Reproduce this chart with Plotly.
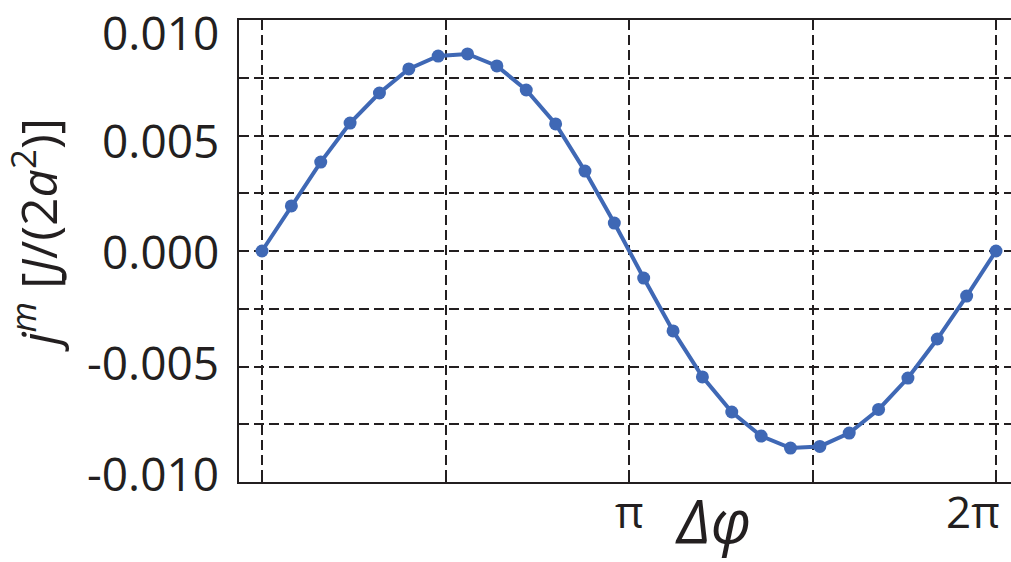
import plotly.graph_objects as go

# Data
dphi = [0.0, 0.2513, 0.5027, 0.7540, 1.0053, 1.2566, 1.5080, 1.7593, 2.0106, 2.2619,
        2.5133, 2.7646, 3.0159, 3.2673, 3.5186, 3.7699, 4.0212, 4.2726, 4.5239, 4.7752,
        5.0265, 5.2779, 5.5292, 5.7805, 6.0319, 6.2832]
jm = [0.0, 0.00195, 0.00385, 0.00554, 0.00684, 0.00788, 0.00844, 0.00853, 0.00801, 0.00697,
      0.00550, 0.00346, 0.00121, -0.00117, -0.00346, -0.00545, -0.00697, -0.00801, -0.00853, -0.00846,
      -0.00788, -0.00686, -0.00550, -0.00381, -0.00195, 0.0]

x_tickvals = [0.0, 1.5708, 3.1416, 4.7124, 6.2832]
x_labels = [(3.1416, "π"), (6.2832, "2π")]
y_tickvals = [-0.010, -0.0075, -0.005, -0.0025, 0.0, 0.0025, 0.005, 0.0075, 0.010]
y_labels = [(0.010, "0.010"), (0.005, "0.005"), (0.0, "0.000"), (-0.005, "-0.005"), (-0.010, "-0.010")]
# downward nudges (px) of the y labels as they sit in the reference
y_label_down = [12, 4, 0, -5, -9]

FONT = "Open Sans"
INK = "#231F20"
BLUE = "#3F68B5"

plot_l, plot_r, plot_t, plot_b = 239, 1011, 20, 482


def px_to_paper(px, py):
    return ((px - plot_l) / (plot_r - plot_l), (plot_b - py) / (plot_b - plot_t))


fig = go.Figure()
fig.add_trace(go.Scatter(
    x=dphi, y=jm, mode="lines+markers",
    line=dict(color=BLUE, width=4),
    marker=dict(color=BLUE, size=13),
    showlegend=False, cliponaxis=False,
))

fig.update_layout(
    width=1011, height=562,
    margin=dict(l=plot_l, r=1011 - plot_r, t=plot_t, b=562 - plot_b),
    paper_bgcolor="white", plot_bgcolor="white",
    font=dict(family=FONT, color=INK, size=46),
    xaxis=dict(
        range=[-0.1969, 6.4115],
        tickvals=x_tickvals, showticklabels=False,
        showgrid=True, gridcolor=INK, gridwidth=1.8, griddash="10px,5px",
        showline=True, linecolor=INK, linewidth=2, mirror="allticks",
        ticks="inside", ticklen=10, tickwidth=1.8, tickcolor=INK,
        zeroline=False, automargin=False,
    ),
    yaxis=dict(
        range=[-0.0100001, 0.0100001],
        tickvals=y_tickvals, showticklabels=False,
        showgrid=True, gridcolor=INK, gridwidth=1.8, griddash="10px,5px",
        showline=True, linecolor=INK, linewidth=2, mirror=False,
        ticks="inside", ticklen=10, tickwidth=1.8, tickcolor=INK,
        zeroline=False, automargin=False,
    ),
)

# y tick labels
lx, _ = px_to_paper(221, 0)
for (val, txt), dy in zip(y_labels, y_label_down):
    fig.add_annotation(x=lx, y=val, xref="paper", yref="y", xanchor="right", yanchor="middle",
                       yshift=-dy, text=txt, showarrow=False,
                       font=dict(family=FONT, size=46, color=INK))

# x tick labels (π centred on its tick, 2π kept inside the canvas)
_, ly = px_to_paper(0, 511)
fig.add_annotation(x=x_labels[0][0], y=ly, xref="x", yref="paper",
                   xanchor="center", yanchor="middle", text=x_labels[0][1],
                   showarrow=False, font=dict(family=FONT, size=44, color=INK))
fig.add_annotation(x=x_labels[1][0], y=ly, xref="x", yref="paper",
                   xanchor="right", yanchor="middle", xshift=6, text=x_labels[1][1],
                   showarrow=False, font=dict(family=FONT, size=44, color=INK))

# x-axis title
tx, ty = px_to_paper(713, 520)
fig.add_annotation(x=tx, y=ty, xref="paper", yref="paper", text="<i>Δφ</i>",
                   xanchor="center", yanchor="middle", showarrow=False,
                   font=dict(family=FONT, size=60, color=INK))
# y-axis title
yx, yy = px_to_paper(36, 235)
fig.add_annotation(x=yx, y=yy, xref="paper", yref="paper",
                   text="<i>j</i><sup><i>m</i></sup> [<i>J</i>/(2<i>a</i><sup>2</sup>)]",
                   textangle=-90, xanchor="center", yanchor="middle", showarrow=False,
                   font=dict(family=FONT, size=50, color=INK))

fig.write_html("out.html", config={"displayModeBar": False},
               post_script="document.body.style.margin='0';document.body.style.padding='0';")
